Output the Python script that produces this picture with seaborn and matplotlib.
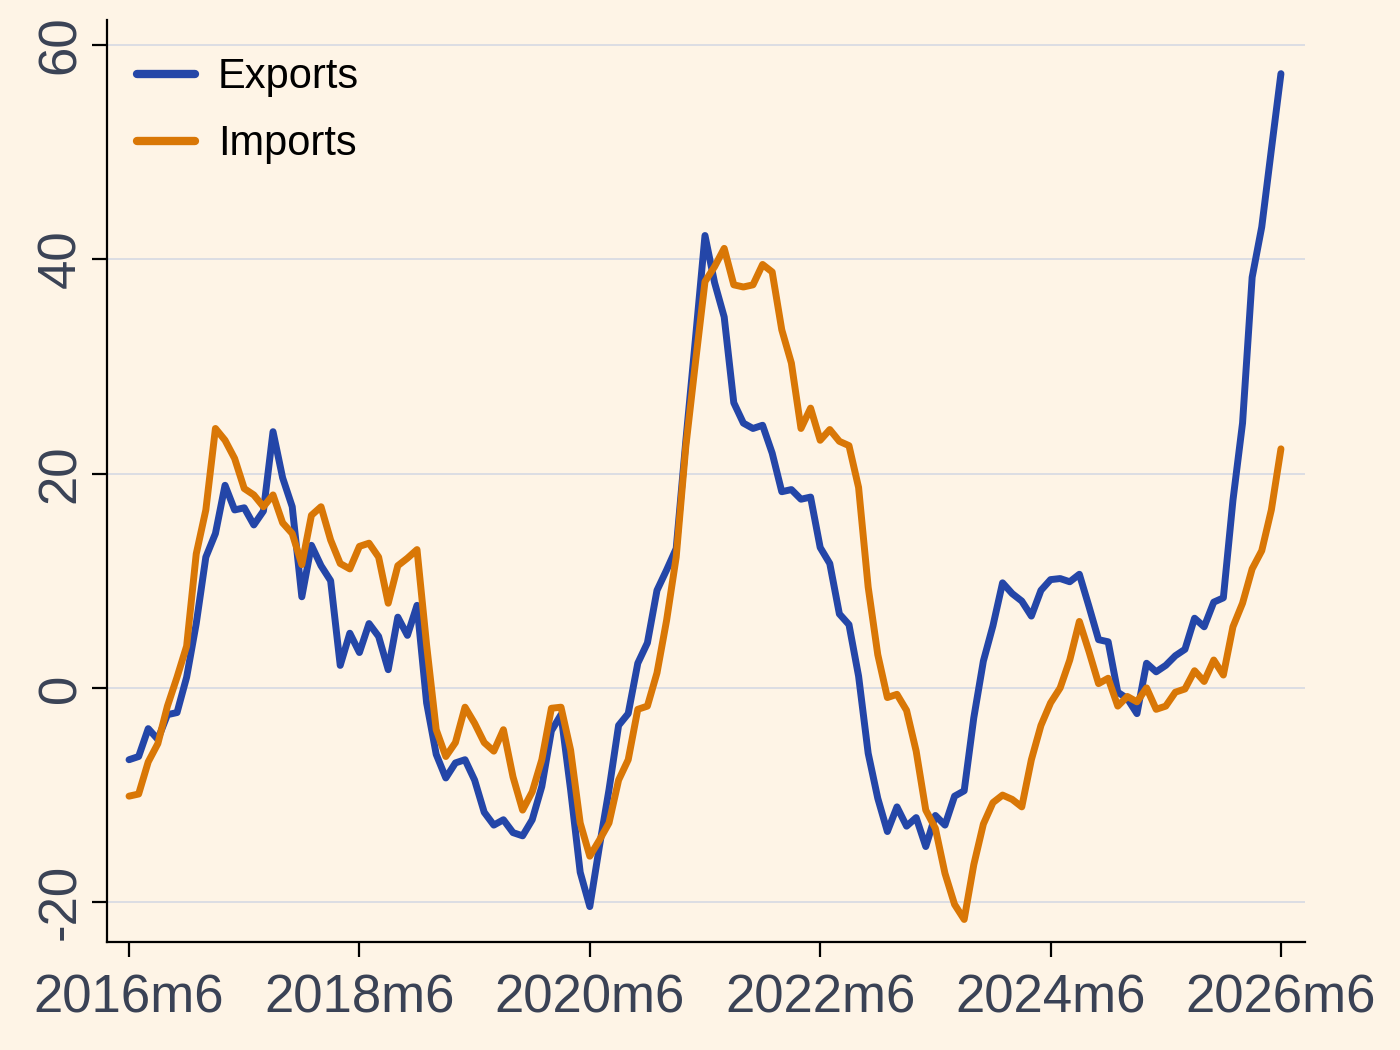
import numpy as np
import pandas as pd
import matplotlib.pyplot as plt
import seaborn as sns

# monthly growth rates, 2016m6 .. 2026m6
exports = [-6.7, -6.4, -3.8, -4.8, -2.5, -2.3, 1.0, 6.0, 12.2, 14.4,
           18.9, 16.6, 16.8, 15.2, 16.5, 23.9, 19.6, 16.9, 8.5, 13.3,
           11.4, 10.0, 2.1, 5.1, 3.3, 6.0, 4.8, 1.7, 6.6, 4.9,
           7.7, -1.4, -6.2, -8.4, -7.0, -6.7, -8.6, -11.6, -12.8, -12.3,
           -13.5, -13.8, -12.3, -9.2, -4.0, -2.5, -9.5, -17.2, -20.4, -14.8,
           -9.5, -3.5, -2.4, 2.3, 4.2, 9.1, 11.0, 13.0, 23.0, 32.5,
           42.2, 37.8, 34.6, 26.6, 24.7, 24.2, 24.5, 21.9, 18.3, 18.5,
           17.6, 17.8, 13.1, 11.6, 6.9, 5.9, 1.1, -6.1, -10.3, -13.4,
           -11.1, -12.9, -12.1, -14.8, -11.9, -12.8, -10.1, -9.6, -2.8, 2.5,
           5.8, 9.8, 8.8, 8.1, 6.7, 9.1, 10.1, 10.2, 9.9, 10.6,
           7.6, 4.5, 4.3, -0.4, -1.0, -2.4, 2.3, 1.5, 2.1, 3.0,
           3.6, 6.5, 5.7, 8.0, 8.4, 17.5, 24.7, 38.3, 43.0, 50.2,
           57.3]
imports = [-10.1, -9.9, -6.9, -5.2, -1.7, 1.0, 3.9, 12.5, 16.6, 24.2,
           23.1, 21.4, 18.6, 18.0, 16.9, 18.0, 15.4, 14.4, 11.5, 16.1,
           16.9, 13.8, 11.6, 11.1, 13.2, 13.5, 12.2, 7.9, 11.4, 12.1,
           12.9, 4.0, -3.9, -6.4, -5.1, -1.8, -3.3, -5.1, -5.9, -3.9,
           -8.3, -11.4, -9.7, -6.7, -1.9, -1.8, -5.8, -12.6, -15.7, -14.2,
           -12.6, -8.6, -6.7, -2.0, -1.7, 1.4, 6.3, 12.2, 22.5, 30.3,
           37.9, 39.3, 41.0, 37.6, 37.4, 37.6, 39.5, 38.8, 33.4, 30.3,
           24.2, 26.1, 23.1, 24.1, 23.0, 22.6, 18.7, 9.4, 3.1, -0.9,
           -0.6, -2.1, -5.9, -11.4, -13.1, -17.3, -20.2, -21.6, -16.5, -12.7,
           -10.7, -10.0, -10.4, -11.1, -6.7, -3.5, -1.4, 0.0, 2.6, 6.2,
           3.4, 0.4, 0.9, -1.7, -0.8, -1.3, 0.0, -2.0, -1.7, -0.4,
           -0.1, 1.6, 0.6, 2.6, 1.2, 5.7, 7.9, 11.1, 12.8, 16.6,
           22.3]
tick_labels = ["2016m6", "2018m6", "2020m6", "2022m6", "2024m6", "2026m6"]
y_ticks = [-20, 0, 20, 40, 60]

n = len(exports)
months = np.arange(n)
df = pd.DataFrame({
    "month": np.concatenate([months, months]),
    "value": exports + imports,
    "series": ["Exports"] * n + ["Imports"] * n,
})

bg = "#fef4e6"
text_col = "#3a4255"
sns.set_style("white", {"axes.facecolor": bg, "figure.facecolor": bg,
                        "xtick.bottom": True, "ytick.left": True})
plt.rcParams["font.family"] = ["Liberation Sans", "DejaVu Sans"]

fig = plt.figure(figsize=(14, 10.5), dpi=100)
ax = fig.add_axes([0.0764, 0.1029, 0.8557, 0.878])

sns.lineplot(data=df, x="month", y="value", hue="series",
             palette={"Exports": "#2446a8", "Imports": "#d97706"},
             linewidth=5, ax=ax)

ax.set_xlim(-2.3, 122.5)
ax.set_ylim(-23.7, 62.3)
ax.set_xticks(np.arange(0, n, 24))
ax.set_xticklabels(tick_labels)
ax.set_yticks(y_ticks)
ax.set_yticklabels([str(v) for v in y_ticks], rotation=90, va="center")
ax.set_xlabel("")
ax.set_ylabel("")

ax.yaxis.grid(True, color="#d9dbe3", linewidth=1.3)
ax.xaxis.grid(False)
for s in ["top", "right"]:
    ax.spines[s].set_visible(False)
for s in ["left", "bottom"]:
    ax.spines[s].set_color("black")
    ax.spines[s].set_linewidth(1.6)

ax.tick_params(axis="both", which="major", direction="out", length=11, width=1.6,
               color="black", labelsize=38, labelcolor=text_col,
               bottom=True, left=True)
ax.tick_params(axis="x", pad=12)
ax.tick_params(axis="y", pad=4)

leg = ax.legend(loc="upper left", frameon=False, fontsize=30,
                handlelength=1.4, handletextpad=0.55, labelspacing=0.65,
                bbox_to_anchor=(-0.01, 1.005), borderaxespad=0.6)
for line in leg.get_lines():
    line.set_linewidth(6)
for t in leg.get_texts():
    t.set_color("black")

fig.savefig("out.png", dpi=100, facecolor=bg)
